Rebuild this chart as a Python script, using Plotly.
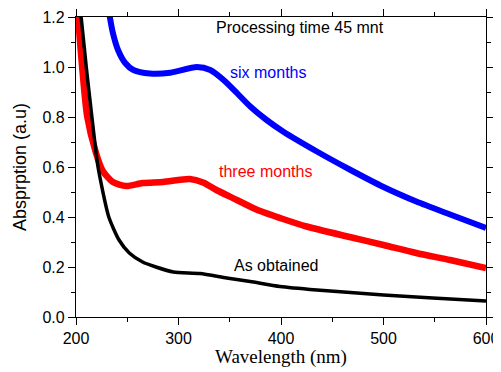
import plotly.graph_objects as go

# As obtained (black)
wl_as = [202, 205, 210, 215.5, 221.5, 232, 242, 252, 265, 278, 295, 321, 347, 370, 399, 435, 500, 548, 600]
abs_as = [1.3, 1.2, 1.0, 0.8, 0.6, 0.4, 0.308, 0.256, 0.22, 0.2, 0.18, 0.174, 0.156, 0.142, 0.122, 0.108, 0.088, 0.076, 0.064]

# three months (red)
wl_3m = [200, 202, 206, 211, 219.5, 226, 236, 249, 265, 285, 311, 324, 337, 357, 376, 402, 425, 467, 500, 532, 565, 600]
abs_3m = [1.3, 1.2, 1.0, 0.8, 0.656, 0.585, 0.54, 0.524, 0.536, 0.54, 0.552, 0.538, 0.508, 0.468, 0.43, 0.392, 0.362, 0.32, 0.288, 0.256, 0.228, 0.196]

# six months (blue)
wl_6m = [230, 233, 236, 241, 248, 256, 272, 292, 318, 331, 344, 357, 370, 386, 402, 435, 467, 500, 532, 565, 600]
abs_6m = [1.28, 1.2, 1.136, 1.068, 1.016, 0.988, 0.974, 0.977, 1.0, 0.988, 0.948, 0.896, 0.842, 0.788, 0.742, 0.662, 0.59, 0.52, 0.462, 0.41, 0.356]

x_ticks = [200, 300, 400, 500, 600]
y_ticks = [0.0, 0.2, 0.4, 0.6, 0.8, 1.0, 1.2]

fig = go.Figure()
fig.add_trace(go.Scatter(x=wl_6m, y=abs_6m, mode="lines", line=dict(color="#0000ff", width=6, shape="spline", smoothing=0.7)))
fig.add_trace(go.Scatter(x=wl_3m, y=abs_3m, mode="lines", line=dict(color="#ff0000", width=6.5, shape="spline", smoothing=0.7)))
fig.add_trace(go.Scatter(x=wl_as, y=abs_as, mode="lines", line=dict(color="#000000", width=3.5, shape="spline", smoothing=0.6)))

sans = "Liberation Sans, Arial, sans-serif"
serif = "Liberation Serif, Times New Roman, serif"

OFF = 8  # default page body margin
W, H = 501, 372
L, R, T, B = 76, 486, 17, 317  # target plot area in page pixels

ann = [
    ("Processing time 45 mnt", 300, 28, "#000000"),
    ("six months", 268, 72, "#0000ff"),
    ("three months", 265, 171, "#ff0000"),
    ("As obtained", 276, 265, "#000000"),
]
annotations = []
for text, px, py, col in ann:
    annotations.append(dict(
        text=text, xref="paper", yref="paper",
        x=(px - L) / (R - L), y=(B - py) / (B - T),
        xanchor="center", yanchor="middle", showarrow=False,
        font=dict(family=sans, size=16, color=col)))
annotations.append(dict(text="Wavelength (nm)", xref="paper", yref="paper",
                        x=(281 - L) / (R - L), y=(B - 357) / (B - T), xanchor="center", yanchor="middle",
                        showarrow=False, font=dict(family=serif, size=19, color="black")))
annotations.append(dict(text="Absprption (a.u)", xref="paper", yref="paper", textangle=-90,
                        x=(20 - L) / (R - L), y=(B - 167) / (B - T), xanchor="center", yanchor="middle",
                        showarrow=False, font=dict(family=sans, size=18, color="black")))

fig.update_layout(
    width=W - OFF, height=H - OFF,
    margin=dict(l=L - OFF, r=W - R, t=T - OFF, b=H - B),
    paper_bgcolor="white", plot_bgcolor="white",
    showlegend=False,
    annotations=annotations,
    xaxis=dict(
        range=[200, 600], tickvals=x_ticks, ticktext=[str(v) for v in x_ticks],
        ticks="outside", ticklen=7, tickwidth=1.2, tickcolor="black",
        minor=dict(dtick=50, ticks="outside", ticklen=4, tickwidth=1.2, tickcolor="black"),
        showline=True, linecolor="black", linewidth=1.2, mirror="ticks",
        showgrid=False, zeroline=False, automargin=False,
        tickfont=dict(family=sans, size=16, color="black"),
    ),
    yaxis=dict(
        range=[0, 1.2], tickvals=y_ticks, ticktext=["%.1f" % v for v in y_ticks],
        ticks="outside", ticklen=7, tickwidth=1.2, tickcolor="black",
        minor=dict(dtick=0.1, ticks="outside", ticklen=4, tickwidth=1.2, tickcolor="black"),
        showline=True, linecolor="black", linewidth=1.2, mirror="ticks",
        showgrid=False, zeroline=False, automargin=False,
        tickfont=dict(family=sans, size=16, color="black"),
    ),
)

fig.write_html("out.html")
